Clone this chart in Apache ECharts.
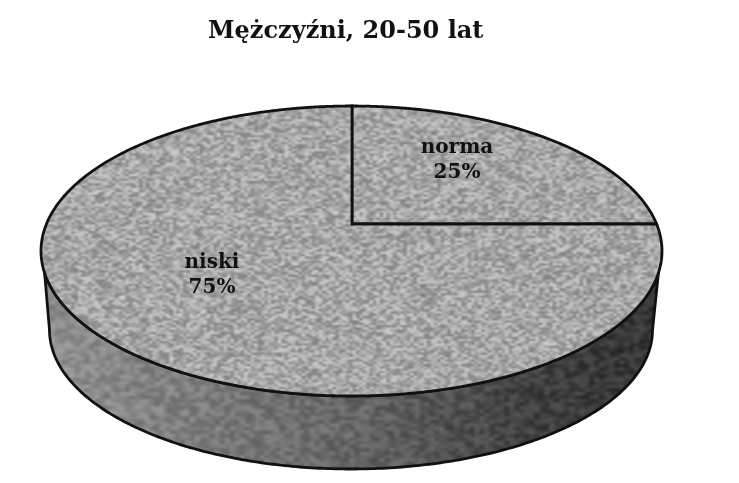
<!DOCTYPE html>
<html><head><meta charset="utf-8">
<style>html,body{margin:0;padding:0;background:#fff}#c{width:739px;height:483px}</style>
<script src="https://cdn.jsdelivr.net/npm/echarts@6/dist/echarts.min.js"></script>
</head><body><div id="c"></div>
<script>
const titleText = 'Mężczyźni, 20-50 lat';
const categories = ['norma', 'niski'];
const shares = [25, 75];

const FONT = '"DejaVu Serif", serif';
const TOP = {cx: 351.5, cy: 251, a: 310.5, b: 145};
const BOTTOM = {cx: 351, cy: 330, a: 301.5, b: 139};
const APEX = {x: 352, y: 224};
const WALL_Y = 273;
const LABEL_OFFSET = [[105, -64], [-140, 51]];

// deterministic speckle texture
function hashNoise(x, y, seed) {
  let h = (Math.imul(x + 1, 374761393) + Math.imul(y + 1, 668265263) + Math.imul(seed, 2147483647)) | 0;
  h = Math.imul(h ^ (h >>> 13), 1274126177);
  h = (h ^ (h >>> 16)) >>> 0;
  return h / 4294967296;
}
function makeTexture(w, h, cellW, cellH, shade, amp, seed) {
  const lw = Math.ceil(w / cellW), lh = Math.ceil(h / cellH);
  const low = document.createElement('canvas');
  low.width = lw; low.height = lh;
  const lc = low.getContext('2d');
  const img = lc.createImageData(lw, lh);
  for (let y = 0; y < lh; y++) for (let x = 0; x < lw; x++) {
    const n = hashNoise(x, y, seed) - 0.5;
    const v = shade(x / lw) + n * amp;
    const k = (x + y * lw) * 4;
    img.data[k] = img.data[k + 1] = img.data[k + 2] = v;
    img.data[k + 3] = 255;
  }
  lc.putImageData(img, 0, 0);
  const cv = document.createElement('canvas');
  cv.width = w; cv.height = h;
  const c = cv.getContext('2d');
  c.imageSmoothingEnabled = true;
  c.imageSmoothingQuality = 'high';
  c.drawImage(low, 0, 0, w, h);
  return cv;
}
const topTexture = makeTexture(739, 483, 3.4, 2.3, () => 166, 72, 3);
const wallShade = t => {
  const x = t * 739;
  if (x < 60) return 142;
  if (x < 351) return 142 - (x - 60) / 291 * 40;
  if (x < 520) return 102 - (x - 351) / 169 * 36;
  return 66 - (x - 520) / 140 * 16;
};
const wallTexture = makeTexture(739, 483, 5, 3.5, wallShade, 40, 17);

function rayToEllipse(theta) {
  const dx = Math.sin(theta), dy = -Math.cos(theta);
  const px = (APEX.x - TOP.cx) / TOP.a, py = (APEX.y - TOP.cy) / TOP.b;
  const qx = dx / TOP.a, qy = dy / TOP.b;
  const A = qx * qx + qy * qy, B = 2 * (px * qx + py * qy), C = px * px + py * py - 1;
  const t = (-B + Math.sqrt(B * B - 4 * A * C)) / (2 * A);
  return [APEX.x + dx * t, APEX.y + dy * t];
}
const total = shares.reduce((a, b) => a + b, 0);

function renderWall() {
  const pts = [];
  const s = Math.asin((WALL_Y - TOP.cy) / TOP.b);
  for (let i = 0; i <= 240; i++) {
    const t = s + (Math.PI - 2 * s) * i / 240;
    pts.push([TOP.cx + TOP.a * Math.cos(t), TOP.cy + TOP.b * Math.sin(t)]);
  }
  for (let i = 240; i >= 0; i--) {
    const t = Math.PI * i / 240;
    pts.push([BOTTOM.cx + BOTTOM.a * Math.cos(t), BOTTOM.cy + BOTTOM.b * Math.sin(t)]);
  }
  return {type: 'polygon', shape: {points: pts},
    style: {fill: {image: wallTexture, repeat: 'no-repeat'}, stroke: '#111', lineWidth: 2.8, lineJoin: 'round'}};
}
function renderSlice(params, api) {
  const idx = params.dataIndex;
  let before = 0;
  for (let i = 0; i < idx; i++) before += shares[i];
  const value = api.value(0);
  const a0 = before / total * 2 * Math.PI, a1 = (before + value) / total * 2 * Math.PI;
  const pts = [[APEX.x, APEX.y]];
  const n = Math.ceil((a1 - a0) / (Math.PI / 180) * 2);
  for (let i = 0; i <= n; i++) pts.push(rayToEllipse(a0 + (a1 - a0) * i / n));
  const lx = APEX.x + LABEL_OFFSET[idx][0], ly = APEX.y + LABEL_OFFSET[idx][1];
  return {type: 'group', children: [
    {type: 'polygon', shape: {points: pts},
      style: {fill: {image: topTexture, repeat: 'no-repeat'}, stroke: '#111', lineWidth: 2.8, lineJoin: 'miter'}},
    {type: 'text', x: lx, y: ly, z2: 10,
      style: {text: categories[idx] + '\n' + value + '%', x: 0, y: 0, align: 'center', verticalAlign: 'middle',
        font: 'bold 20px ' + FONT, lineHeight: 25, fill: '#111'}}
  ]};
}

const chart = echarts.init(document.getElementById('c'), null, {renderer: 'canvas'});
chart.setOption({
  animation: false,
  backgroundColor: '#fff',
  title: {text: titleText, left: 203, top: 15, textStyle: {fontFamily: FONT, fontWeight: 'bold', fontSize: 24, color: '#111'}},
  series: [
    {type: 'custom', coordinateSystem: 'none', silent: true, z: 1, data: [total], renderItem: renderWall},
    {type: 'custom', coordinateSystem: 'none', silent: true, z: 2,
      data: shares.map((v, i) => ({name: categories[i], value: [v]})), renderItem: renderSlice}
  ]
});
</script></body></html>
